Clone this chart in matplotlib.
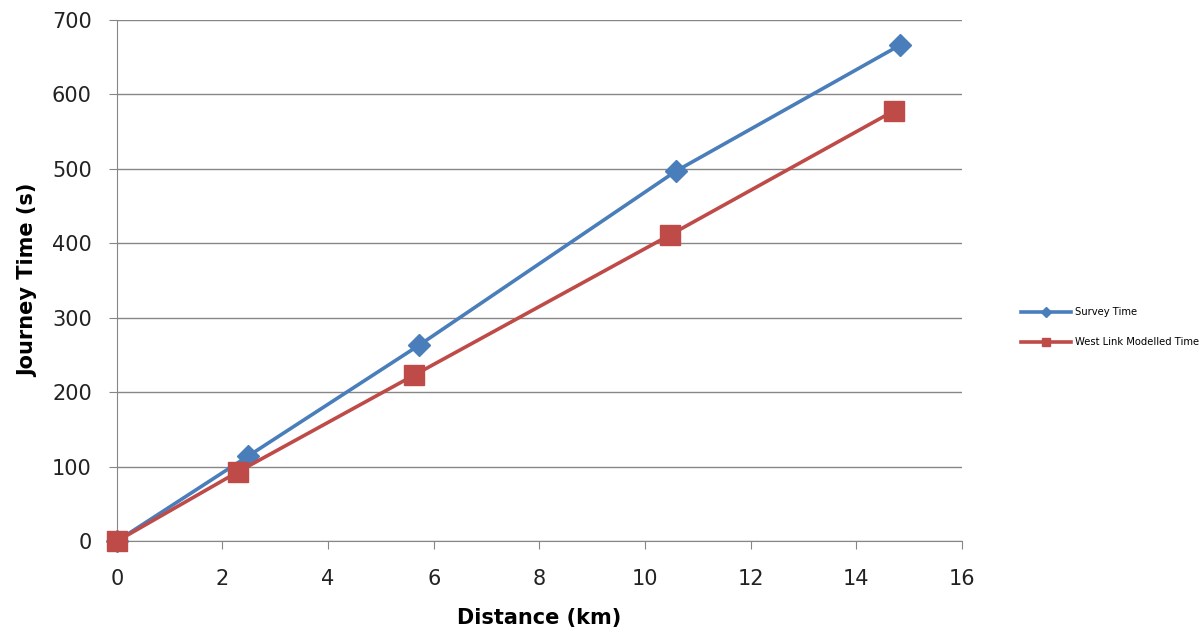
import matplotlib.pyplot as plt

# values
survey_km = [0, 2.48, 5.72, 10.59, 14.83]
survey_s = [0, 114, 263, 497, 666]
model_km = [0, 2.29, 5.63, 10.47, 14.72]
model_s = [0, 93, 223, 411, 578]

blue = '#4a7ebb'
red = '#be4b48'
grey = '#868686'

fig = plt.figure(figsize=(12.04, 6.36), dpi=100)
ax = fig.add_axes([0.097, 0.149, 0.702, 0.82])

ax.plot(survey_km, survey_s, color=blue, lw=2.6, marker='D', ms=11,
        label='Survey Time', zorder=3)
ax.plot(model_km, model_s, color=red, lw=2.6, marker='s', ms=14,
        label='West Link Modelled Time', zorder=3)

ax.set_xlim(0, 16)
ax.set_ylim(0, 700)
ax.set_xticks(range(0, 17, 2))
ax.set_yticks(range(0, 701, 100))
ax.grid(True, axis='y', color=grey, lw=1)
ax.set_axisbelow(True)
for s in ['top', 'right']:
    ax.spines[s].set_visible(False)
for s in ['left', 'bottom']:
    ax.spines[s].set_color(grey)
ax.tick_params(axis='both', colors=grey, labelcolor='#222222', labelsize=15, length=6)
ax.tick_params(axis='y', pad=12)
ax.tick_params(axis='x', pad=14)
ax.set_xlabel('Distance (km)', fontsize=15, fontweight='bold', labelpad=14)
ax.set_ylabel('Journey Time (s)', fontsize=15, fontweight='bold', labelpad=10)
for ln in ax.lines:
    ln.set_clip_on(False)

leg = ax.legend(loc='center left', bbox_to_anchor=(1.064, 0.41), frameon=False,
                fontsize=7.2, markerscale=0.45, handlelength=5.0, handletextpad=0.4,
                labelspacing=2.0, borderpad=0)

fig.savefig('out.png', dpi=100)
